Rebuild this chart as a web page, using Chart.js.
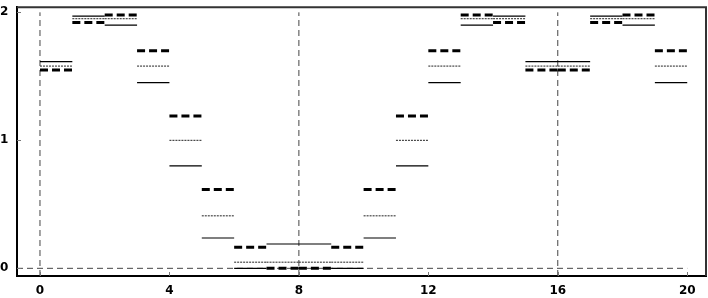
<!DOCTYPE html>
<html>
<head>
<meta charset="utf-8">
<script src="https://cdn.jsdelivr.net/npm/chart.js@4.4.1/dist/chart.umd.min.js"></script>
<style>
  html, body { margin: 0; padding: 0; background: #fff; }
  #wrap { width: 708px; height: 298px; }
</style>
</head>
<body>
<div id="wrap"><canvas id="chart"></canvas></div>
<script>
// segment edges along x, one value per unit segment
const xEdges = [0, 1, 2, 3, 4, 5, 6, 7, 8, 9, 10, 11, 12, 13, 14, 15, 16, 17, 18, 19, 20];
const solidVals  = [1.615, 1.97, 1.90, 1.45, 0.80, 0.237, 0, 0.19, 0.19, 0, 0.237, 0.80, 1.45, 1.90, 1.97, 1.615, 1.615, 1.97, 1.90, 1.45];
const dottedVals = [1.58, 1.95, 1.95, 1.58, 1.0, 0.41, 0.048, 0.048, 0.048, 0.048, 0.41, 1.0, 1.58, 1.95, 1.95, 1.58, 1.58, 1.95, 1.95, 1.58];
const dashedVals = [1.55, 1.92, 1.98, 1.70, 1.19, 0.615, 0.165, 0, 0, 0.165, 0.615, 1.19, 1.70, 1.98, 1.92, 1.55, 1.55, 1.92, 1.98, 1.70];
const refX = [0, 8, 16];
const xTicks = [0, 4, 8, 12, 16, 20];
const yTicks = [0, 1, 2];

const xMin = -0.71, xMax = 20.58;
const yMin = -0.06, yMax = 2.04;

// turn per-segment values into flat pieces with gaps between them
function steps(vals) {
  const pts = [];
  vals.forEach((v, i) => {
    pts.push({ x: xEdges[i], y: v }, { x: xEdges[i + 1], y: v }, { x: xEdges[i + 1], y: null });
  });
  return pts;
}

const refData = [];
refX.forEach(x => {
  refData.push({ x: x, y: yMin }, { x: x, y: 2 }, { x: x, y: null });
});
refData.push({ x: xMin, y: 0 }, { x: 20, y: 0 });

Chart.defaults.font.family = 'DejaVu Sans';
Chart.defaults.font.size = 12;
Chart.defaults.font.weight = 'bold';
Chart.defaults.color = '#000';

// inward tick marks + top/right frame
const frame = {
  id: 'frame',
  afterDraw(chart) {
    const ctx = chart.ctx;
    const a = chart.chartArea;
    const xs = chart.scales.x, ys = chart.scales.y;
    ctx.save();
    ctx.strokeStyle = '#333';
    ctx.lineWidth = 2;
    ctx.beginPath();
    ctx.moveTo(a.left, a.top);
    ctx.lineTo(a.right, a.top);
    ctx.lineTo(a.right, a.bottom);
    ctx.stroke();
    ctx.strokeStyle = '#777';
    ctx.lineWidth = 1;
    ctx.beginPath();
    xTicks.forEach(t => {
      const px = Math.round(xs.getPixelForValue(t)) + 0.5;
      ctx.moveTo(px, a.bottom);
      ctx.lineTo(px, a.bottom - 4);
    });
    yTicks.forEach(t => {
      const py = Math.round(ys.getPixelForValue(t)) + 0.5;
      ctx.moveTo(a.left, py);
      ctx.lineTo(a.left + 4, py);
    });
    ctx.stroke();
    ctx.restore();
  }
};

new Chart(document.getElementById('chart').getContext('2d'), {
  type: 'line',
  data: {
    datasets: [
      {
        data: steps(dashedVals),
        borderColor: '#000',
        borderWidth: 3,
        borderDash: [8, 4],
        pointRadius: 0,
        spanGaps: false,
      },
      {
        data: steps(dottedVals),
        borderColor: '#222',
        borderWidth: 1,
        borderDash: [2, 1],
        pointRadius: 0,
        spanGaps: false,
      },
      {
        data: steps(solidVals),
        borderColor: '#000',
        borderWidth: 1.2,
        pointRadius: 0,
        spanGaps: false,
      },
      {
        data: refData,
        borderColor: '#444',
        borderWidth: 1,
        borderDash: [6, 4],
        pointRadius: 0,
        spanGaps: false,
      },
    ],
  },
  options: {
    responsive: true,
    maintainAspectRatio: false,
    animation: false,
    layout: { padding: { top: 1, right: 2, left: 0, bottom: 0 } },
    plugins: { legend: { display: false }, tooltip: { enabled: false } },
    scales: {
      x: {
        type: 'linear',
        min: xMin,
        max: xMax,
        afterBuildTicks: s => { s.ticks = xTicks.map(v => ({ value: v })); },
        afterFit: s => { s.height = 22; },
        grid: { display: false, drawTicks: false },
        border: { display: true, color: '#000', width: 2 },
        ticks: { padding: 8, maxRotation: 0, autoSkip: false },
      },
      y: {
        type: 'linear',
        min: yMin,
        max: yMax,
        afterBuildTicks: s => { s.ticks = yTicks.map(v => ({ value: v })); },
        afterFit: s => { s.width = 17; },
        grid: { display: false, drawTicks: false },
        border: { display: true, color: '#000', width: 2 },
        ticks: { padding: 0, crossAlign: 'far', autoSkip: false },
      },
    },
  },
  plugins: [frame],
});
</script>
</body>
</html>
